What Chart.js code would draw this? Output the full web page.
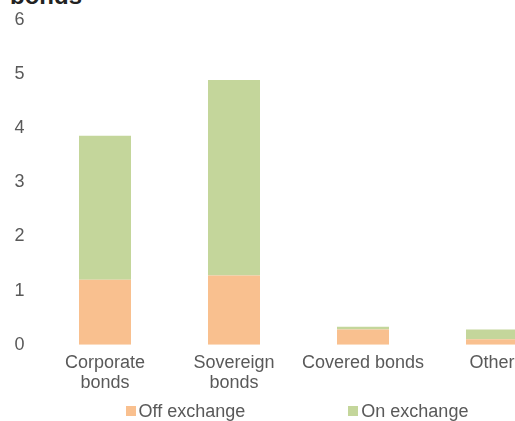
<!DOCTYPE html>
<html>
<head>
<meta charset="utf-8">
<script src="https://cdn.jsdelivr.net/npm/chart.js@4"></script>
<style>
  html, body { margin: 0; padding: 0; background: #fff; overflow: hidden; width: 515px; height: 421px; }
  body { position: relative; font-family: "Liberation Sans", Arial, sans-serif; color: #595959; }
  #title { position: absolute; left: 10px; top: -16px; font-size: 24px; line-height: 1; font-weight: bold; color: #222; }
  #wrap { position: absolute; left: 0; top: 0; }
  #legend { position: absolute; left: 0; top: 401px; width: 594px; display: flex; justify-content: center; gap: 103px; font-size: 18px; line-height: 20px; }
  .item { display: flex; align-items: center; }
  .box { width: 10px; height: 10px; margin-right: 3px; }
</style>
</head>
<body>
<div id="title">bonds</div>
<div id="wrap"><canvas id="myChart" width="600" height="421"></canvas></div>
<div id="legend"></div>
<script>
var categories = [["Corporate", "bonds"], ["Sovereign", "bonds"], "Covered bonds", "Other"];
var offExchange = [1.20, 1.28, 0.28, 0.10];
var onExchange = [2.66, 3.61, 0.05, 0.18];
var seriesNames = ["Off exchange", "On exchange"];
var seriesColors = ["#F9C08F", "#C4D69B"];

var ctx = document.getElementById('myChart').getContext('2d');
var myChart = new Chart(ctx, {
    type: 'bar',
    data: {
        labels: categories,
        datasets: [{
            data: offExchange,
            label: seriesNames[0],
            backgroundColor: seriesColors[0],
            borderWidth: 0,
        }, {
            data: onExchange,
            label: seriesNames[1],
            backgroundColor: seriesColors[1],
            borderWidth: 0,
        }]
    },
    options: {
        responsive: false,
        animation: false,
        layout: { padding: { top: 20, left: 0, right: 43.5, bottom: 0 } },
        datasets: { bar: { barPercentage: 0.403, categoryPercentage: 1 } },
        plugins: { legend: { display: false }, tooltip: { enabled: false } },
        scales: {
            x: {
                stacked: true,
                grid: { display: false, drawTicks: false },
                border: { display: false },
                ticks: { color: '#595959', font: { family: 'Liberation Sans', size: 18, lineHeight: 1.111 }, padding: 8, maxRotation: 0, autoSkip: false },
                afterFit: function (s) { s.height = 76.3; }
            },
            y: {
                stacked: true,
                min: 0,
                max: 6,
                grid: { display: false, drawTicks: false },
                border: { display: false },
                ticks: { stepSize: 1, color: '#595959', font: { family: 'Liberation Sans', size: 18 }, padding: 16 },
                afterFit: function (s) { s.width = 40.5; s.paddingTop = 0; s.paddingBottom = 0; }
            }
        }
    }
});

var legend = document.getElementById('legend');
seriesNames.forEach(function (name, i) {
    var item = document.createElement('div');
    item.className = 'item';
    var box = document.createElement('span');
    box.className = 'box';
    box.style.background = seriesColors[i];
    var txt = document.createElement('span');
    txt.textContent = name;
    item.appendChild(box);
    item.appendChild(txt);
    legend.appendChild(item);
});
</script>
</body>
</html>
